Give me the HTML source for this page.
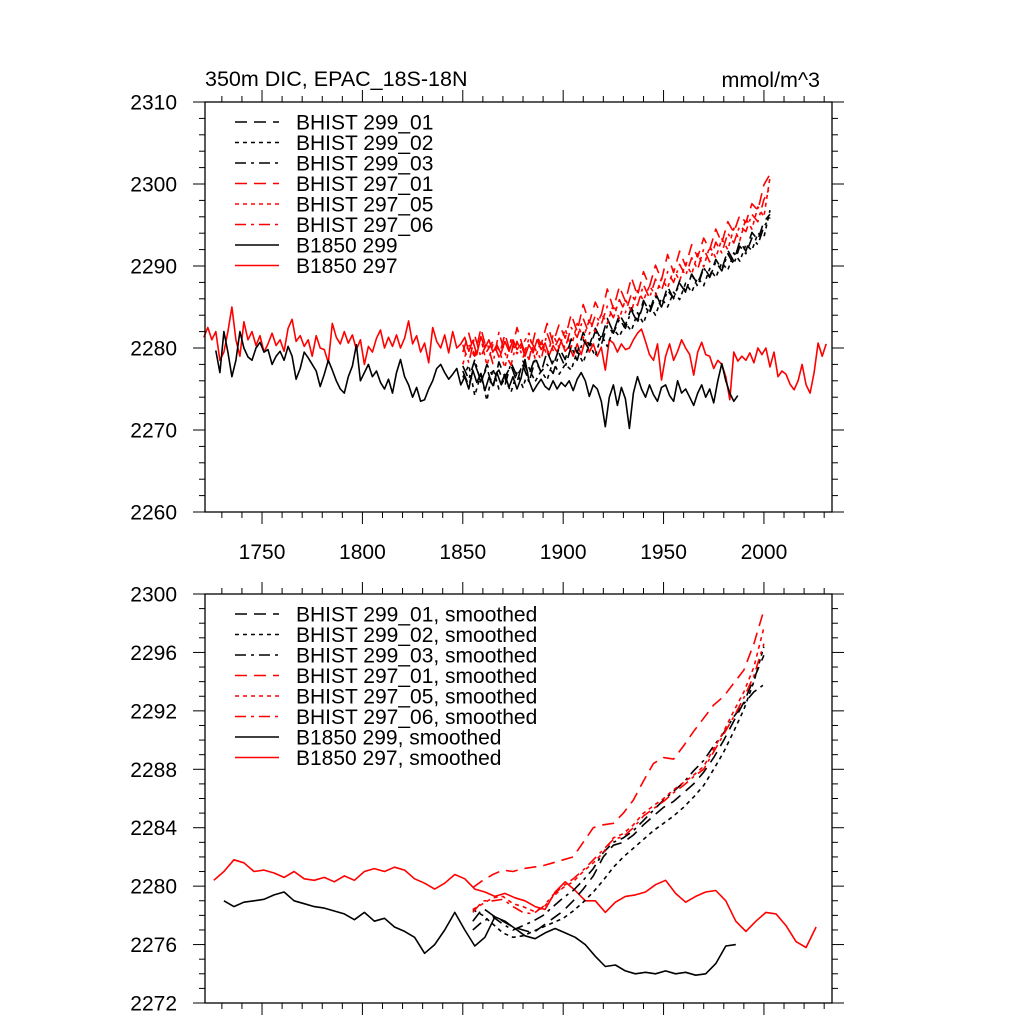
<!DOCTYPE html>
<html><head><meta charset="utf-8"><style>
html,body{margin:0;padding:0;background:#fff;}
svg text{font-family:"Liberation Sans",sans-serif;fill:#000;}
</style></head><body>
<svg id="chart" width="1024" height="1024" viewBox="0 0 1024 1024" xmlns="http://www.w3.org/2000/svg">
<text x="205" y="86" font-size="21.5">350m DIC, EPAC_18S-18N</text>
<text x="820" y="87" font-size="21.5" text-anchor="end">mmol/m^3</text>
<g id="top"></g>
<g id="bot"></g>
</svg>
<script>
// ---------- DATA ----------
const xTickLabels = [1750,1800,1850,1900,1950,2000];
const topYTicks = [2260,2270,2280,2290,2300,2310];
const botYTicks = [2272,2276,2280,2284,2288,2292,2296,2300];

// top panel: annual series sampled every 2 yrs (B1850) and 3 yrs (BHIST)
const b297Start = 1721, b297Step = 2;
const b297 = [2281.3,2282.5,2281.0,2282.0,2278.5,2279.5,2282.0,2285.0,2281.0,2279.0,2283.2,2281.0,2282.0,2280.3,2281.5,2279.5,2280.5,2281.8,2280.3,2281.0,2279.6,2282.4,2283.5,2280.8,2281.5,2280.2,2281.0,2279.0,2281.5,2280.0,2279.8,2278.2,2283.0,2281.3,2280.5,2282.0,2280.6,2281.6,2279.8,2281.0,2278.0,2280.2,2279.5,2281.2,2282.2,2280.0,2281.3,2280.2,2281.6,2280.0,2281.2,2283.3,2280.5,2281.5,2279.5,2280.6,2278.2,2282.5,2280.8,2280.0,2281.6,2279.4,2282.0,2280.0,2280.5,2281.3,2279.6,2280.9,2279.2,2281.4,2280.0,2281.0,2279.5,2280.4,2279.3,2280.8,2279.6,2281.0,2279.8,2280.5,2279.0,2280.4,2279.4,2281.0,2279.8,2280.6,2279.1,2280.3,2279.5,2280.8,2279.6,2280.2,2279.0,2280.5,2279.2,2281.0,2279.5,2280.5,2279.0,2280.1,2277.3,2281.0,2280.6,2279.5,2280.5,2279.8,2280.0,2281.0,2281.8,2282.3,2280.8,2279.2,2278.5,2280.5,2276.1,2279.0,2280.5,2278.5,2279.6,2281.0,2280.0,2279.2,2276.7,2279.5,2280.7,2279.2,2279.0,2277.5,2278.5,2278.0,2276.5,2273.7,2279.5,2278.4,2279.0,2278.5,2279.4,2278.2,2280.0,2279.2,2280.0,2277.7,2279.5,2276.5,2277.2,2276.8,2275.6,2274.9,2276.0,2278.0,2275.5,2274.5,2277.0,2280.6,2279.0,2280.5];
const b299Start = 1727, b299Step = 2;
const b299 = [2279.7,2277.0,2282.0,2279.5,2276.5,2278.5,2282.0,2280.0,2278.9,2278.5,2280.0,2280.7,2279.5,2279.8,2278.0,2279.0,2279.6,2278.5,2280.2,2279.0,2276.2,2277.5,2279.5,2278.8,2278.0,2277.2,2275.3,2276.8,2278.5,2277.3,2276.0,2275.0,2274.5,2276.5,2277.8,2280.4,2276.0,2277.0,2278.0,2276.5,2277.2,2275.8,2275.0,2276.2,2274.5,2277.0,2278.6,2276.5,2275.5,2274.0,2275.2,2273.5,2273.7,2275.0,2276.0,2277.5,2278.0,2277.0,2276.2,2276.8,2277.5,2275.5,2276.5,2275.0,2277.3,2275.8,2276.9,2274.8,2276.4,2275.4,2277.0,2275.6,2276.8,2275.2,2276.5,2275.0,2276.3,2278.6,2276.0,2274.7,2275.5,2276.2,2275.3,2274.9,2276.0,2275.0,2275.8,2275.3,2276.0,2274.8,2276.2,2277.0,2276.0,2274.1,2275.5,2275.0,2273.5,2270.4,2274.0,2275.5,2273.0,2275.2,2273.8,2270.2,2274.5,2276.5,2275.0,2274.0,2275.5,2274.3,2273.5,2275.2,2275.5,2274.2,2273.5,2276.0,2274.5,2275.0,2274.0,2273.0,2274.5,2275.5,2274.0,2275.0,2273.3,2276.0,2278.1,2276.0,2274.5,2273.5,2274.2];
const histStart = 1850, histStep = 3;
const h297_01 = [2279.5,2281.8,2279.0,2282.4,2279.6,2280.8,2278.9,2281.7,2279.2,2282.5,2280.1,2278.6,2281.9,2280.4,2283.0,2280.6,2282.9,2281.2,2284.1,2282.0,2285.3,2283.1,2285.6,2284.0,2287.2,2284.8,2287.5,2285.7,2288.6,2286.4,2289.3,2287.5,2290.1,2288.3,2291.4,2289.2,2291.8,2290.0,2292.6,2291.1,2293.4,2292.0,2294.5,2292.8,2295.4,2294.1,2296.2,2295.3,2297.6,2296.8,2299.9,2301.2];
const h297_05 = [2278.0,2280.6,2278.8,2281.2,2277.9,2280.4,2279.8,2277.6,2281.0,2279.3,2280.5,2281.8,2278.7,2280.9,2279.1,2281.6,2280.0,2282.3,2280.1,2283.0,2281.2,2283.4,2282.0,2284.2,2283.0,2285.3,2283.6,2285.9,2284.5,2287.0,2285.8,2287.6,2286.4,2288.5,2287.3,2289.6,2288.2,2290.3,2289.0,2291.5,2289.9,2292.4,2291.0,2293.3,2292.0,2294.6,2293.1,2295.8,2294.5,2297.2,2296.0,2300.8];
const h297_06 = [2280.4,2278.2,2281.5,2278.9,2280.7,2278.1,2281.9,2279.4,2277.9,2280.8,2278.8,2281.2,2279.9,2278.6,2281.8,2279.7,2281.2,2280.0,2282.5,2281.3,2283.6,2281.7,2284.0,2282.9,2285.1,2283.7,2285.9,2284.3,2286.6,2285.2,2287.7,2286.1,2288.4,2287.0,2289.3,2288.0,2290.2,2288.8,2291.0,2289.6,2292.1,2290.5,2292.9,2291.6,2294.0,2292.8,2294.9,2294.2,2296.3,2295.4,2298.1,2299.6];
const h299_01 = [2277.2,2275.4,2278.1,2276.0,2277.6,2275.1,2278.3,2276.4,2277.9,2275.8,2278.4,2276.7,2278.9,2277.0,2279.6,2277.8,2280.0,2278.6,2281.1,2279.4,2281.9,2280.3,2282.4,2281.0,2283.6,2281.9,2284.1,2282.8,2284.9,2283.3,2285.8,2284.4,2286.7,2285.1,2287.5,2286.0,2288.2,2286.9,2289.0,2287.8,2289.9,2288.7,2290.8,2289.6,2291.9,2290.6,2293.0,2291.8,2294.1,2293.2,2295.4,2296.3];
const h299_02 = [2276.4,2277.9,2274.2,2276.8,2273.6,2277.5,2275.0,2276.3,2274.6,2277.0,2275.2,2277.6,2275.9,2277.2,2276.1,2278.4,2276.8,2278.0,2277.3,2279.6,2278.2,2280.5,2279.0,2281.6,2280.2,2282.3,2281.4,2283.0,2282.1,2284.3,2283.0,2285.2,2284.0,2286.1,2285.0,2286.8,2285.9,2287.9,2286.8,2288.6,2287.6,2289.7,2288.6,2290.4,2289.5,2291.6,2290.6,2292.6,2291.9,2294.0,2293.5,2296.8];
const h299_03 = [2277.8,2276.2,2278.6,2275.7,2278.0,2276.5,2277.3,2275.4,2278.2,2276.6,2277.9,2275.8,2278.5,2277.1,2278.0,2276.9,2279.3,2277.7,2280.2,2278.5,2281.0,2279.8,2282.1,2280.4,2282.7,2281.8,2283.5,2282.4,2284.6,2283.1,2285.4,2284.2,2286.3,2285.0,2287.0,2286.1,2287.9,2286.8,2289.0,2287.5,2289.8,2288.6,2290.5,2289.4,2291.5,2290.2,2292.4,2291.5,2293.4,2292.6,2294.8,2295.9];

// bottom panel: smoothed, every 5 yrs
const s297Start = 1726, s299Start = 1731, sHistStart = 1855, sStep = 5;
const s297 = [2280.4,2281.0,2281.8,2281.6,2281.0,2281.1,2280.9,2280.6,2281.0,2280.5,2280.4,2280.6,2280.3,2280.7,2280.4,2281.0,2281.2,2281.0,2281.3,2281.1,2280.5,2280.2,2279.8,2280.2,2280.8,2280.5,2279.8,2279.6,2279.3,2279.5,2279.2,2279.0,2278.6,2278.4,2279.6,2280.3,2279.7,2279.0,2279.0,2278.2,2278.9,2279.3,2279.4,2279.6,2280.1,2280.4,2279.5,2278.9,2279.3,2279.6,2279.7,2279.0,2277.6,2276.9,2277.6,2278.2,2278.1,2277.3,2276.2,2275.8,2277.2];
const s299 = [2279.0,2278.6,2278.9,2279.0,2279.1,2279.4,2279.6,2279.0,2278.8,2278.6,2278.5,2278.3,2278.1,2277.7,2278.2,2277.6,2277.8,2277.2,2276.9,2276.5,2275.4,2276.0,2277.0,2278.2,2277.0,2275.9,2276.5,2277.9,2277.6,2277.1,2276.6,2276.4,2276.8,2277.1,2276.8,2276.5,2276.0,2275.2,2274.5,2274.6,2274.2,2274.0,2274.1,2274.0,2274.2,2274.0,2274.1,2273.9,2274.0,2274.7,2275.9,2276.0];
const sh297_01 = [2279.9,2280.4,2280.8,2281.1,2281.0,2281.2,2281.3,2281.4,2281.6,2281.8,2282.0,2283.0,2284.0,2284.2,2284.3,2285.0,2285.9,2287.2,2288.4,2288.8,2288.7,2289.6,2290.6,2291.5,2292.4,2293.0,2293.9,2294.8,2296.6,2298.9];
const sh297_05 = [2278.4,2278.8,2279.2,2279.3,2278.8,2278.6,2278.3,2278.5,2279.3,2279.9,2280.3,2281.0,2281.6,2282.3,2283.3,2283.6,2284.2,2285.0,2285.5,2286.0,2286.6,2287.1,2287.6,2288.2,2289.4,2290.6,2292.0,2293.3,2295.0,2297.7];
const sh297_06 = [2278.2,2279.0,2279.0,2279.1,2278.6,2278.2,2278.1,2278.6,2279.4,2280.0,2280.5,2281.1,2281.8,2282.5,2283.2,2283.4,2284.0,2284.8,2285.3,2285.8,2286.4,2286.9,2287.5,2288.0,2289.2,2290.4,2291.6,2292.9,2294.4,2296.6];
const sh299_01 = [2277.6,2278.5,2278.0,2277.6,2277.2,2277.0,2276.8,2277.3,2277.8,2278.3,2279.0,2279.8,2280.7,2282.0,2282.8,2283.0,2283.5,2284.2,2284.8,2285.4,2285.8,2286.4,2287.0,2287.8,2288.8,2290.0,2291.3,2292.6,2294.2,2295.8];
const sh299_02 = [2278.4,2278.0,2277.4,2276.8,2276.5,2276.6,2276.9,2277.2,2277.5,2277.8,2278.3,2278.9,2279.6,2280.4,2281.3,2282.0,2282.6,2283.2,2283.8,2284.3,2284.8,2285.4,2286.1,2286.9,2288.0,2289.2,2290.6,2292.1,2294.0,2296.4];
const sh299_03 = [2277.0,2277.6,2277.9,2277.4,2277.0,2277.3,2277.6,2278.0,2278.6,2279.2,2279.7,2280.4,2281.2,2282.3,2283.0,2283.3,2283.8,2284.5,2285.2,2285.9,2286.5,2287.1,2287.9,2288.6,2289.6,2290.5,2291.6,2292.5,2293.3,2293.8];

const topLegend = ["BHIST 299_01","BHIST 299_02","BHIST 299_03","BHIST 297_01","BHIST 297_05","BHIST 297_06","B1850 299","B1850 297"];
const botLegend = ["BHIST 299_01, smoothed","BHIST 299_02, smoothed","BHIST 299_03, smoothed","BHIST 297_01, smoothed","BHIST 297_05, smoothed","BHIST 297_06, smoothed","B1850 299, smoothed","B1850 297, smoothed"];

// ---------- DRAW ----------
const NS = "http://www.w3.org/2000/svg";
const X0 = 205, X1 = 832, YR0 = 1721.6, YR1 = 2033.9;
function xs(yr){ return X0 + (yr - YR0) / (YR1 - YR0) * (X1 - X0); }
const styles = [
  {c:"#000", d:"12 7"}, {c:"#000", d:"4 4"}, {c:"#000", d:"11 5 3 5"},
  {c:"#f00", d:"12 7"}, {c:"#f00", d:"4 4"}, {c:"#f00", d:"11 5 3 5"},
  {c:"#000", d:""}, {c:"#f00", d:""}
];
function mk(tag, attrs, parent){
  const e = document.createElementNS(NS, tag);
  for (const k in attrs) e.setAttribute(k, attrs[k]);
  parent.appendChild(e); return e;
}
function panel(g, top, bot, vmin, vmax, yTicks, minorStep, showXLabels, legend, series){
  const ys = v => bot - (v - vmin) / (vmax - vmin) * (bot - top);
  series.forEach((s, i) => {
    let d = "";
    s.vals.forEach((v, j) => { d += (j ? "L" : "M") + xs(s.start + j * s.step).toFixed(1) + " " + ys(v).toFixed(1); });
    const st = styles[s.style];
    const p = mk("path", {d: d, fill: "none", stroke: st.c, "stroke-width": 1.6, "stroke-dasharray": st.d || "none", "stroke-linejoin": "round"}, g);
    
    
  });
  const fr = mk("rect", {x: X0, y: top, width: X1 - X0, height: bot - top, fill: "none", stroke: "#000", "stroke-width": 1.3}, g);
  
  
  for (let v = vmin; v <= vmax + 1e-6; v += minorStep) {
    const major = yTicks.some(t => Math.abs(t - v) < 1e-6);
    const L = major ? 12 : 6, y = ys(v);
    mk("line", {x1: X0 - L, x2: X0, y1: y, y2: y, stroke: "#000", "stroke-width": 1}, g);
    mk("line", {x1: X1, x2: X1 + L, y1: y, y2: y, stroke: "#000", "stroke-width": 1}, g);
  }
  yTicks.forEach(v => {
    const t = mk("text", {x: 177, y: ys(v) + 7.5, "font-size": 21, "text-anchor": "end"}, g);
    t.textContent = v;
    
    
  });
  for (let yr = 1730; yr <= 2030; yr += 10) {
    const major = yr % 50 === 0, L = major ? 12 : 6, x = xs(yr);
    mk("line", {x1: x, x2: x, y1: bot, y2: bot + L, stroke: "#000", "stroke-width": 1}, g);
    mk("line", {x1: x, x2: x, y1: top - L, y2: top, stroke: "#000", "stroke-width": 1}, g);
  }
  if (showXLabels) xTickLabels.forEach(yr => {
    const t = mk("text", {x: xs(yr), y: bot + 47, "font-size": 21, "text-anchor": "middle"}, g);
    t.textContent = yr;
    
    
  });
  legend.forEach((lab, i) => {
    const y = top + 20 + i * 20.5, st = styles[i];
    const ln = mk("line", {x1: 235, x2: 279, y1: y, y2: y, stroke: st.c, "stroke-width": 1.6, "stroke-dasharray": st.d || "none"}, g);
    
    
    const t = mk("text", {x: 296, y: y + 7.5, "font-size": 21}, g);
    t.textContent = lab;
    
    
  });
}
panel(document.getElementById("top"), 102, 512, 2260, 2310, topYTicks, 2, true, topLegend, [
  {name:"b1850-297", vals:b297, start:b297Start, step:b297Step, style:7},
  {name:"b1850-299", vals:b299, start:b299Start, step:b299Step, style:6},
  {name:"bhist-299-01", vals:h299_01, start:histStart, step:histStep, style:0},
  {name:"bhist-299-02", vals:h299_02, start:histStart, step:histStep, style:1},
  {name:"bhist-299-03", vals:h299_03, start:histStart, step:histStep, style:2},
  {name:"bhist-297-01", vals:h297_01, start:histStart, step:histStep, style:3},
  {name:"bhist-297-05", vals:h297_05, start:histStart, step:histStep, style:4},
  {name:"bhist-297-06", vals:h297_06, start:histStart, step:histStep, style:5}
]);
panel(document.getElementById("bot"), 594, 1003, 2272, 2300, botYTicks, 1, false, botLegend, [
  {name:"b1850-297-smoothed", vals:s297, start:s297Start, step:sStep, style:7},
  {name:"b1850-299-smoothed", vals:s299, start:s299Start, step:sStep, style:6},
  {name:"bhist-299-01-smoothed", vals:sh299_01, start:sHistStart, step:sStep, style:0},
  {name:"bhist-299-02-smoothed", vals:sh299_02, start:sHistStart, step:sStep, style:1},
  {name:"bhist-299-03-smoothed", vals:sh299_03, start:sHistStart, step:sStep, style:2},
  {name:"bhist-297-01-smoothed", vals:sh297_01, start:sHistStart, step:sStep, style:3},
  {name:"bhist-297-05-smoothed", vals:sh297_05, start:sHistStart, step:sStep, style:4},
  {name:"bhist-297-06-smoothed", vals:sh297_06, start:sHistStart, step:sStep, style:5}
]);
</script>
</body></html>
